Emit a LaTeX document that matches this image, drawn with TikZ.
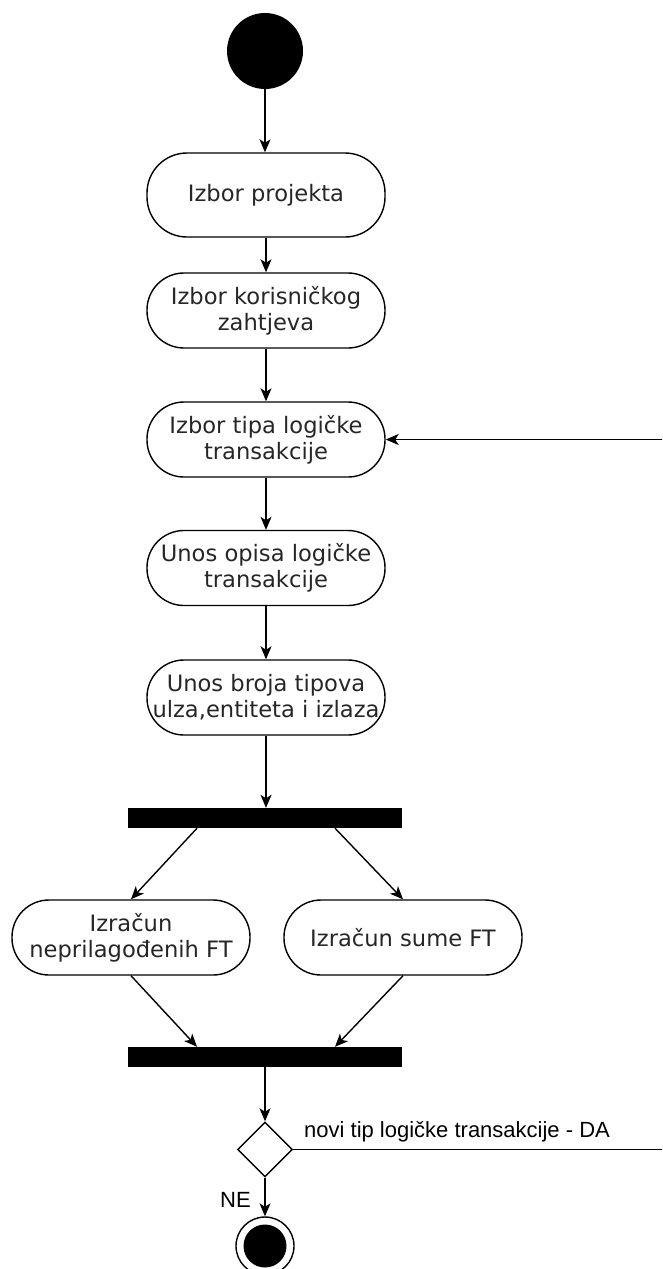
\documentclass[tikz,border=0pt]{standalone}
\usepackage{fontspec}
\setmainfont{DejaVu Sans}
\newfontfamily\labfont{Liberation Sans}
\usetikzlibrary{arrows.meta,shapes.geometric,calc}
\begin{document}
\begin{tikzpicture}[x=1pt,y=-1pt,
  act/.style={draw, line width=1.4pt, rounded corners=37pt, minimum width=238pt, minimum height=75pt, align=center, font=\fontsize{22.6}{26}\selectfont, inner sep=0pt, text=black!85},
  bar/.style={fill=black, minimum width=274pt, minimum height=20pt, inner sep=0pt},
  flow/.style={line width=1.4pt, -{Stealth[length=13pt,width=11pt,inset=3.5pt]}},
  lbl/.style={font=\labfont\fontsize{22}{26}\selectfont, inner sep=0pt}]
\useasboundingbox (0,0) rectangle (662,1269);
\clip (0,0) rectangle (662,1269);
\node[circle, fill=black, minimum size=76pt, inner sep=0pt] (start) at (265,51) {};
\node[act, minimum height=84pt, rounded corners=40pt] (a1) at (266,195) {Izbor projekta};
\node[act] (a2) at (266,310.5) {Izbor korisničkog\\zahtjeva};
\node[act] (a3) at (266,439.5) {Izbor tipa logičke\\transakcije};
\node[act] (a4) at (266,568) {Unos opisa logičke\\transakcije};
\node[act] (a5) at (266,697.5) {Unos broja tipova\\ulza,entiteta i izlaza};
\node[bar] (b1) at (265,818) {};
\node[act] (l) at (131,937.5) {Izračun\\neprilagođenih FT};
\node[act] (r) at (403,937.5) {Izračun sume FT};
\node[bar] (b2) at (265,1057) {};
\node[diamond, draw, line width=1.4pt, minimum width=55pt, minimum height=55pt, inner sep=0pt, aspect=1] (d) at (265,1149.5) {};
\node[circle, draw, line width=1.4pt, minimum size=58pt, inner sep=0pt] (e) at (265,1246) {};
\node[circle, fill=black, minimum size=43pt, inner sep=0pt] (ei) at (e) {};
\draw[flow] (start) -- (start |- a1.north);
\draw[flow] (a1) -- (a2);
\draw[flow] (a2) -- (a3);
\draw[flow] (a3) -- (a4);
\draw[flow] (a4) -- (a5);
\draw[flow] (a5.south) -- (a5.south |- b1.north);
\draw[flow] ($(b1.south)+(-68,0)$) -- (l.north);
\draw[flow] ($(b1.south)+(70,0)$) -- (r.north);
\draw[flow] (l.south) -- ($(b2.north)+(-68,0)$);
\draw[flow] (r.south) -- ($(b2.north)+(70,0)$);
\draw[flow] (b2) -- (d);
\draw[flow] (d) -- (e);
\coordinate (loop) at (700,0);
\draw[flow] (d.east) -- (d.east -| loop) -- (a3.east -| loop) -- (a3.east);
\node[lbl, anchor=base west] (t1) at (304,1137) {novi tip logičke transakcije - DA};
\node[lbl, anchor=base east] (t2) at (251,1207) {NE};
\end{tikzpicture}
\end{document}
